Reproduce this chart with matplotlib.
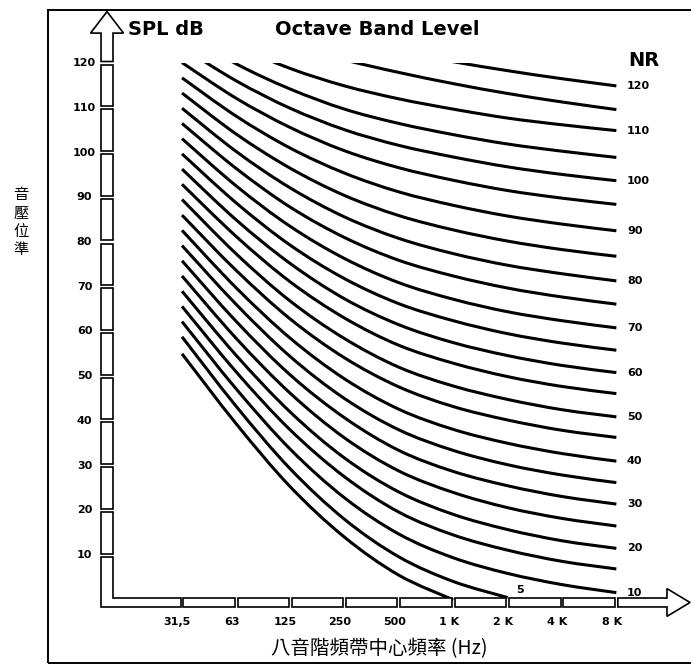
import matplotlib.pyplot as plt
import numpy as np
from matplotlib.path import Path
from matplotlib.patches import PathPatch, Rectangle, Polygon

# octave band centres and their printed labels
bands = [31.5, 63, 125, 250, 500, 1000, 2000, 4000, 8000]
band_labels = ["31,5", "63", "125", "250", "500", "1 K", "2 K", "4 K", "8 K"]
spl_ticks = [10, 20, 30, 40, 50, 60, 70, 80, 90, 100, 110, 120]

# NR curves, SPL (dB) at each band (nan = runs below the axis)
nr_values = [0, 5, 10, 15, 20, 25, 30, 35, 40, 45, 50, 55, 60,
             65, 70, 75, 80, 85, 90, 95, 100, 105, 110, 115, 120]
nan = float("nan")
spl = [
    [55.0, 39.3, 25.3, 14.0, 5.5, 0.0, nan, nan, nan],
    [58.8, 43.2, 29.3, 18.0, 9.6, 4.1, 0.5, nan, nan],
    [62.2, 47.1, 33.7, 22.8, 14.7, 9.4, 5.9, 3.4, 1.6],
    [65.6, 50.9, 38.0, 27.5, 19.6, 14.5, 11.1, 8.6, 6.9],
    [69.0, 54.6, 42.0, 31.7, 24.1, 19.1, 15.7, 13.2, 11.5],
    [72.4, 58.4, 46.2, 36.2, 28.8, 24.0, 20.6, 18.2, 16.5],
    [75.8, 62.2, 50.3, 40.7, 33.4, 28.7, 25.5, 23.1, 21.4],
    [79.2, 66.0, 54.4, 45.0, 38.0, 33.4, 30.2, 27.9, 26.2],
    [82.6, 69.7, 58.5, 49.4, 42.6, 38.1, 35.0, 32.7, 31.0],
    [86.0, 73.6, 62.8, 54.1, 47.6, 43.2, 40.2, 37.9, 36.3],
    [89.5, 77.3, 66.8, 58.4, 52.0, 47.8, 44.8, 42.5, 40.9],
    [92.9, 81.2, 71.1, 63.0, 56.9, 52.9, 49.9, 47.7, 46.1],
    [96.3, 84.9, 75.2, 67.3, 61.5, 57.5, 54.6, 52.4, 50.8],
    [99.7, 88.7, 79.3, 71.8, 66.2, 62.4, 59.5, 57.4, 55.8],
    [103.1, 92.5, 83.5, 76.3, 70.9, 67.2, 64.4, 62.4, 60.8],
    [106.5, 96.4, 87.8, 81.0, 75.9, 72.4, 69.7, 67.7, 66.1],
    [109.9, 100.2, 92.1, 85.6, 80.8, 77.4, 74.8, 72.9, 71.3],
    [113.3, 104.1, 96.5, 90.4, 85.9, 82.7, 80.2, 78.3, 76.8],
    [116.7, 108.1, 101.0, 95.4, 91.2, 88.2, 85.8, 84.0, 82.5],
    [120.1, 112.1, 105.6, 100.4, 96.6, 93.8, 91.5, 89.8, 88.4],
    [123.5, 116.0, 109.9, 105.1, 101.6, 99.0, 96.8, 95.1, 93.7],
    [126.9, 119.8, 114.2, 109.7, 106.5, 104.0, 101.9, 100.3, 98.9],
    [130.3, 123.9, 118.8, 114.9, 112.0, 109.7, 107.7, 106.2, 104.9],
    [133.7, 128.2, 124.0, 120.7, 117.9, 115.4, 113.2, 111.3, 109.6],
    [137.1, 132.0, 128.0, 125.0, 122.5, 120.3, 118.3, 116.5, 114.9],
]

LATIN = "DejaVu Sans"
CJK = ["Noto Sans CJK TC", "DejaVu Sans"]


def smooth_path(xs, ys):
    # bezier path passing through the points (smooth in log-frequency)
    u = np.log2(xs)
    y = np.asarray(ys)
    n = len(u)
    verts = [(xs[0], ys[0])]
    codes = [Path.MOVETO]
    for i in range(n - 1):
        i0 = max(i - 1, 0)
        i3 = min(i + 2, n - 1)
        c1u = u[i] + (u[i + 1] - u[i0]) / 6
        c1y = y[i] + (y[i + 1] - y[i0]) / 6
        c2u = u[i + 1] - (u[i3] - u[i]) / 6
        c2y = y[i + 1] - (y[i3] - y[i]) / 6
        verts += [(2 ** c1u, c1y), (2 ** c2u, c2y), (xs[i + 1], ys[i + 1])]
        codes += [Path.CURVE4] * 3
    return Path(verts, codes)


fig = plt.figure(figsize=(6.91, 6.66), dpi=100)
ax = fig.add_axes([0, 0, 1, 1])
ax.set_xscale("log", base=2)
ax.set_xlim(3.095, 20715)
ax.set_ylim(-14.8, 134.1)
ax.axis("off")

# ---- axis bars drawn as hollow boxes ----
bar_x = (11.22, 13.07)    # vertical bar, Hz
bar_y = (-1.6, 0.4)       # horizontal bar, dB
gap_db = 0.35
gap_f = 1.019
box_kw = dict(facecolor="white", edgecolor="black", lw=1.2, zorder=3)

for lo, hi in zip(spl_ticks[:-1], spl_ticks[1:]):
    ax.add_patch(Rectangle((bar_x[0], lo + gap_db), bar_x[1] - bar_x[0],
                           hi - lo - 2 * gap_db, **box_kw))

for f0, f1 in zip(bands[:-1], bands[1:]):
    ax.add_patch(Rectangle((f0 * gap_f, bar_y[0]), f1 / gap_f - f0 * gap_f,
                           bar_y[1] - bar_y[0], **box_kw))

# corner piece
ax.add_patch(Polygon([(bar_x[0], spl_ticks[0] - gap_db), (bar_x[1], spl_ticks[0] - gap_db),
                      (bar_x[1], bar_y[1]), (bands[0] / gap_f, bar_y[1]),
                      (bands[0] / gap_f, bar_y[0]), (bar_x[0], bar_y[0])], **box_kw))

# up arrow
xc = np.sqrt(bar_x[0] * bar_x[1])
ax.add_patch(Polygon([(bar_x[0], spl_ticks[-1] + gap_db), (bar_x[0], 126.7),
                      (xc / 1.234, 126.7), (xc, 131.5), (xc * 1.234, 126.7),
                      (bar_x[1], 126.7), (bar_x[1], spl_ticks[-1] + gap_db)], **box_kw))

# right arrow
yc = (bar_y[0] + bar_y[1]) / 2
ax.add_patch(Polygon([(bands[-1] * gap_f, bar_y[1]), (15250, bar_y[1]), (15250, yc + 3.1),
                      (20456, yc), (15250, yc - 3.1), (15250, bar_y[0]),
                      (bands[-1] * gap_f, bar_y[0])], **box_kw))

# ---- NR curves ----
clip = Rectangle((1, -5), 1e5, 125, transform=ax.transData)
for nr, row in zip(nr_values, spl):
    pts = [(f, v) for f, v in zip(bands, row) if not np.isnan(v)]
    xs = [p[0] for p in pts]
    ys = [p[1] for p in pts]
    patch = PathPatch(smooth_path(xs, ys), fill=False, edgecolor="black",
                      lw=2.2, capstyle="butt", zorder=2)
    ax.add_patch(patch)
    patch.set_clip_path(clip)
    if nr >= 10 and nr % 10 == 0:
        ax.text(bands[-1] * 1.145, row[-1], str(nr), ha="left", va="center",
                fontsize=8, fontweight="bold", family=LATIN)

ax.text(bands[6] * 1.11, 2.2, "5", ha="left", va="center",
        fontsize=8, fontweight="bold", family=LATIN)

# ---- tick labels ----
for v in spl_ticks:
    ax.text(9.09, v, str(v), ha="center", va="center",
            fontsize=8, fontweight="bold", family=LATIN)
for f, lab in zip(bands, band_labels):
    ax.text(f / 1.06, -5.0, lab, ha="center", va="center",
            fontsize=8, fontweight="bold", family=LATIN)

# ---- titles and axis labels ----
W, H = 691.0, 666.0
fig.text(128 / W, 1 - 29.5 / H, "SPL dB", ha="left", va="center",
         fontsize=14, fontweight="bold", family=LATIN)
fig.text(275 / W, 1 - 29.5 / H, "Octave Band Level", ha="left", va="center",
         fontsize=14, fontweight="bold", family=LATIN)
fig.text(628 / W, 1 - 60.5 / H, "NR", ha="left", va="center",
         fontsize=14, fontweight="bold", family=LATIN)
fig.text(21 / W, 1 - 222 / H, "音\n壓\n位\n準", ha="center", va="center",
         fontsize=11, linespacing=1.1, family=CJK)
fig.text(379 / W, 1 - 649 / H, "八音階頻帶中心頻率 (Hz)", ha="center", va="center",
         fontsize=14, family=CJK)

# outer frame (right side runs off the page)
fig.add_artist(Rectangle((48 / W, 3 / H), 1.0, (H - 13) / H, transform=fig.transFigure,
                         fill=False, edgecolor="black", lw=1.4))

fig.savefig("out.png", dpi=100)
